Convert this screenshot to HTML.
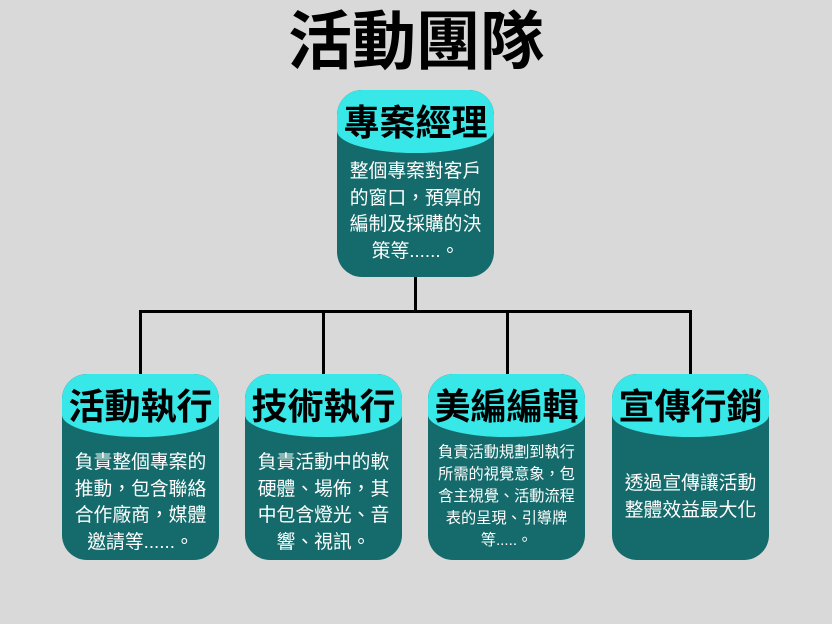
<!DOCTYPE html>
<html><head><meta charset="utf-8"><style>
body{margin:0;width:832px;height:624px;background:#d9d9d9;position:relative;overflow:hidden;font-family:"Liberation Sans","Noto Sans CJK TC",sans-serif}
.t{position:absolute;left:0;width:832px;top:2px;text-align:center;font-size:64px;font-weight:bold;line-height:80px;color:#000}
.box{position:absolute;width:157px;height:186px;background:#156b6b;border-radius:25px;overflow:hidden}
.h{position:absolute;left:0;top:0;width:157px;height:63px;background:#38e8e8;border-radius:25px 25px 50% 50%/25px 25px 22px 22px;text-align:center;font-weight:bold;font-size:36px;line-height:66px;color:#000;white-space:nowrap}
.b{position:absolute;left:-10px;width:177px;text-align:center;color:#fff;font-size:18.8px;line-height:26.5px}
.l{position:absolute;background:#000}
</style></head><body>
<div class="t">活動團隊</div>
<div class="l" style="left:414px;top:276px;width:3px;height:36px"></div>
<div class="l" style="left:139px;top:310px;width:553px;height:3px"></div>
<div class="l" style="left:139px;top:310px;width:3px;height:65px"></div>
<div class="l" style="left:322px;top:310px;width:3px;height:65px"></div>
<div class="l" style="left:506px;top:310px;width:3px;height:65px"></div>
<div class="l" style="left:689px;top:310px;width:3px;height:65px"></div>

<div class="box" style="left:337px;top:90px;height:187px"><div class="h">專案經理</div>
<div class="b" style="top:68px">整個專案對客戶<br>的窗口，預算的<br>編制及採購的決<br>策等......。</div></div>

<div class="box" style="left:62px;top:374px"><div class="h">活動執行</div>
<div class="b" style="top:75px">負責整個專案的<br>推動，包含聯絡<br>合作廠商，媒體<br>邀請等......。</div></div>

<div class="box" style="left:245px;top:374px"><div class="h">技術執行</div>
<div class="b" style="top:75px">負責活動中的軟<br>硬體、場佈，其<br>中包含燈光、音<br>響、視訊。</div></div>

<div class="box" style="left:428px;top:374px"><div class="h">美編編輯</div>
<div class="b" style="top:68px;font-size:15.2px;line-height:22px">負責活動規劃到執行<br>所需的視覺意象，包<br>含主視覺、活動流程<br>表的呈現、引導牌<br>等.....。</div></div>

<div class="box" style="left:612px;top:374px"><div class="h">宣傳行銷</div>
<div class="b" style="top:96px">透過宣傳讓活動<br>整體效益最大化</div></div>
</body></html>
